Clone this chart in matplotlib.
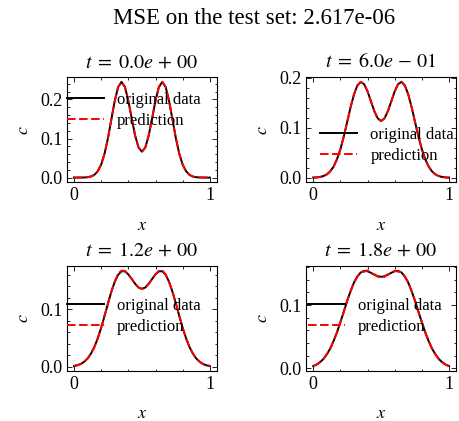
import numpy as np
import matplotlib
matplotlib.use("Agg")
import matplotlib.pyplot as plt
from matplotlib.ticker import AutoMinorLocator, MultipleLocator

plt.rcParams['font.family'] = ['Liberation Serif', 'DejaVu Serif']
plt.rcParams['mathtext.fontset'] = 'stix'
plt.rcParams['font.size'] = 13

# data (x from 0 to 1, step 0.025)
x = np.linspace(0, 1, 41)
times = ["0.0e+00", "6.0e-01", "1.2e+00", "1.8e+00"]
mse = "2.617e-06"

c_t0 = [0.0000, 0.0000, 0.0001, 0.0003, 0.0009, 0.0027, 0.0070, 0.0162, 0.0331, 0.0610,
        0.1007, 0.1487, 0.1962, 0.2318, 0.2451, 0.2321, 0.1972, 0.1514, 0.1077, 0.0772,
        0.0662, 0.0772, 0.1077, 0.1514, 0.1972, 0.2321, 0.2451, 0.2318, 0.1962, 0.1487,
        0.1007, 0.0610, 0.0331, 0.0162, 0.0070, 0.0027, 0.0009, 0.0003, 0.0001, 0.0000, 0.0000]
p_t0 = [0.0002, 0.0001, 0.0002, 0.0004, 0.0010, 0.0028, 0.0071, 0.0161, 0.0332, 0.0611,
        0.1005, 0.1489, 0.1960, 0.2320, 0.2449, 0.2323, 0.1970, 0.1515, 0.1075, 0.0774,
        0.0660, 0.0773, 0.1079, 0.1512, 0.1974, 0.2320, 0.2452, 0.2316, 0.1963, 0.1486,
        0.1009, 0.0609, 0.0333, 0.0161, 0.0071, 0.0026, 0.0010, 0.0003, 0.0002, 0.0001, 0.0002]

c_t1 = [0.0003, 0.0006, 0.0015, 0.0033, 0.0066, 0.0125, 0.0222, 0.0368, 0.0568, 0.0823,
        0.1113, 0.1409, 0.1667, 0.1848, 0.1920, 0.1875, 0.1731, 0.1533, 0.1334, 0.1191,
        0.1135, 0.1191, 0.1334, 0.1533, 0.1731, 0.1875, 0.1920, 0.1848, 0.1667, 0.1409,
        0.1113, 0.0823, 0.0568, 0.0368, 0.0222, 0.0125, 0.0066, 0.0033, 0.0015, 0.0006, 0.0003]
p_t1 = [0.0004, 0.0007, 0.0014, 0.0034, 0.0065, 0.0126, 0.0221, 0.0369, 0.0567, 0.0825,
        0.1111, 0.1411, 0.1665, 0.1850, 0.1922, 0.1873, 0.1733, 0.1531, 0.1336, 0.1189,
        0.1137, 0.1190, 0.1336, 0.1531, 0.1733, 0.1877, 0.1922, 0.1846, 0.1669, 0.1407,
        0.1115, 0.0821, 0.0570, 0.0366, 0.0224, 0.0124, 0.0067, 0.0032, 0.0016, 0.0005, 0.0004]

c_t2 = [0.0014, 0.0028, 0.0051, 0.0088, 0.0146, 0.0230, 0.0346, 0.0496, 0.0678, 0.0884,
        0.1100, 0.1304, 0.1476, 0.1599, 0.1661, 0.1659, 0.1607, 0.1526, 0.1443, 0.1378,
        0.1356, 0.1378, 0.1443, 0.1526, 0.1607, 0.1659, 0.1661, 0.1599, 0.1476, 0.1304,
        0.1100, 0.0884, 0.0678, 0.0496, 0.0346, 0.0230, 0.0146, 0.0088, 0.0051, 0.0028, 0.0014]
p_t2 = [0.0018, 0.0034, 0.0047, 0.0092, 0.0142, 0.0234, 0.0342, 0.0500, 0.0674, 0.0888,
        0.1096, 0.1308, 0.1480, 0.1620, 0.1672, 0.1666, 0.1603, 0.1530, 0.1440, 0.1382,
        0.1352, 0.1380, 0.1446, 0.1522, 0.1611, 0.1668, 0.1676, 0.1604, 0.1472, 0.1308,
        0.1096, 0.0888, 0.0674, 0.0500, 0.0342, 0.0234, 0.0142, 0.0092, 0.0047, 0.0034, 0.0018]

c_t3 = [0.0036, 0.0060, 0.0096, 0.0148, 0.0219, 0.0312, 0.0430, 0.0570, 0.0727, 0.0895,
        0.1064, 0.1221, 0.1354, 0.1454, 0.1516, 0.1541, 0.1536, 0.1512, 0.1481, 0.1457,
        0.1448, 0.1457, 0.1481, 0.1512, 0.1536, 0.1541, 0.1516, 0.1454, 0.1354, 0.1221,
        0.1064, 0.0895, 0.0727, 0.0570, 0.0430, 0.0312, 0.0219, 0.0148, 0.0096, 0.0060, 0.0036]
p_t3 = [0.0042, 0.0056, 0.0104, 0.0142, 0.0226, 0.0305, 0.0438, 0.0562, 0.0734, 0.0887,
        0.1072, 0.1213, 0.1362, 0.1446, 0.1530, 0.1528, 0.1550, 0.1500, 0.1490, 0.1449,
        0.1456, 0.1446, 0.1489, 0.1505, 0.1545, 0.1530, 0.1524, 0.1448, 0.1361, 0.1214,
        0.1070, 0.0888, 0.0733, 0.0563, 0.0436, 0.0306, 0.0225, 0.0142, 0.0103, 0.0055, 0.0040]

originals = [c_t0, c_t1, c_t2, c_t3]
preds = [p_t0, p_t1, p_t2, p_t3]

# legend placement per panel (axes coords), matched by eye
leg_pos = [(0.0, 0.68), (0.093, 0.35), (0.0, 0.515), (0.01, 0.515)]

fig, axes = plt.subplots(2, 2, figsize=(4.6, 4.21), dpi=100)
fig.subplots_adjust(left=0.146, right=0.991, top=0.817, bottom=0.119,
                    wspace=0.60, hspace=0.79)

for i, ax in enumerate(axes.flat):
    ax.plot(x, originals[i], color='black', lw=1.4, label='original data')
    ax.plot(x, preds[i], color='red', ls='--', dashes=(4.4, 1.8), lw=1.4,
            label='prediction')
    mant, expo = times[i].split('e')
    ax.set_title(r'$t\;=\;' + mant + r'e\,' + expo[0] + r'\,' + expo[1:] + '$',
                 fontsize=14.5, pad=7)
    ax.set_xlabel('$x$', fontsize=13, labelpad=9)
    ax.set_ylabel('$c$', fontsize=13, labelpad=6)
    ax.set_xticks([0, 1])
    ax.yaxis.set_major_locator(MultipleLocator(0.1))
    ax.xaxis.set_minor_locator(AutoMinorLocator())
    ax.yaxis.set_minor_locator(AutoMinorLocator())
    ax.tick_params(which='both', direction='in', top=True, right=True, width=0.6,
                   labelsize=13)
    ax.tick_params(which='major', length=3.5)
    ax.tick_params(which='minor', length=1.8)
    for sp in ax.spines.values():
        sp.set_linewidth(0.8)
    ax.legend(loc='center left', bbox_to_anchor=leg_pos[i], frameon=False,
              borderpad=0, borderaxespad=0, handlelength=2.2, labelspacing=0.3,
              fontsize=12)

fig.suptitle('MSE on the test set: ' + mse, fontsize=16.5, x=0.553, y=0.955,
             va='center')
fig.savefig('out.png', dpi=100)
